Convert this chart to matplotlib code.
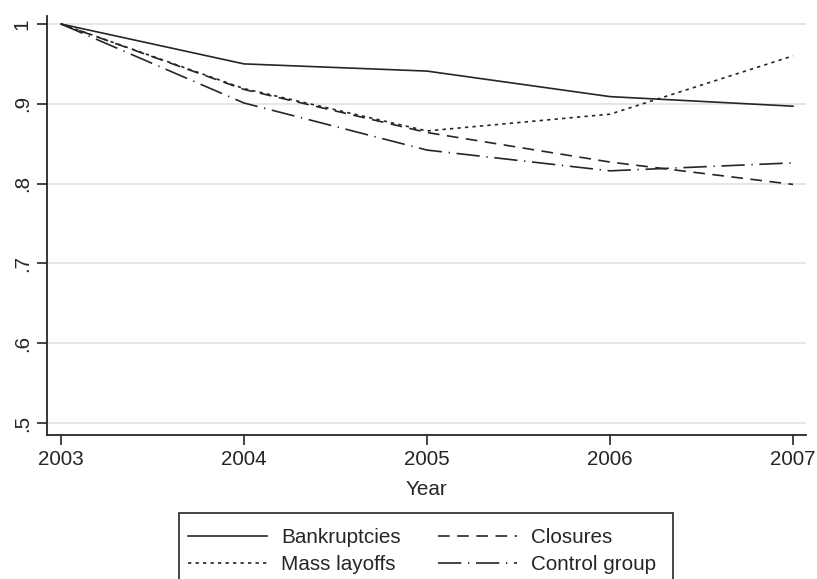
import numpy as np
import matplotlib
matplotlib.use("Agg")
import matplotlib.pyplot as plt
from matplotlib.patches import Rectangle

plt.rcParams['font.family'] = ['Liberation Sans', 'DejaVu Sans']

# data
years = [2003, 2004, 2005, 2006, 2007]
bankruptcies = [1.0, 0.950, 0.941, 0.909, 0.897]
closures = [1.0, 0.918, 0.864, 0.827, 0.799]
mass_layoffs = [1.0, 0.919, 0.866, 0.887, 0.960]
control_group = [1.0, 0.901, 0.842, 0.816, 0.826]
yticks = [0.5, 0.6, 0.7, 0.8, 0.9, 1.0]
ytick_labels = ['.5', '.6', '.7', '.8', '.9', '1']

fs = 14.9
dark = '#262626'
W, H = 817, 579

fig = plt.figure(figsize=(W/100, H/100), dpi=100)
ax = fig.add_axes([47/W, 1 - 435/H, (806 - 47)/W, (435 - 16)/H])

l1, = ax.plot(years, bankruptcies, color=dark, lw=1.2, ls='-', label='Bankruptcies')
l2, = ax.plot(years, closures, color=dark, lw=1.2, ls=(0, (7, 4.5)), label='Closures')
l3, = ax.plot(years, mass_layoffs, color=dark, lw=1.2, ls=(0, (2, 2.5)), label='Mass layoffs')
l4, = ax.plot(years, control_group, color=dark, lw=1.2, ls=(0, (14, 4, 0.8, 4)), label='Control group')

ax.set_xlim(2003 - 14/183, 2007 + 13/183)
ax.set_ylim(0.5 - 12/798, 1.0 + 8/798)
ax.set_xticks(years)
ax.set_xticklabels([str(y) for y in years], fontsize=fs, color=dark)
ax.set_yticks(yticks)
ax.set_yticklabels(ytick_labels, fontsize=fs, color=dark, rotation=90, va='center')
ax.tick_params(axis='both', direction='out', length=7, width=1.2, color=dark, pad=4)

ax.yaxis.grid(True, color='#e6e6e6', lw=1.4)
ax.set_axisbelow(True)
for s in ['top', 'right']:
    ax.spines[s].set_visible(False)
for s in ['left', 'bottom']:
    ax.spines[s].set_color(dark)
    ax.spines[s].set_linewidth(1.3)

ax.set_xlabel('Year', fontsize=fs, color=dark, labelpad=8)

# legend box runs off the bottom of the figure, so draw the frame by hand
fig.patches.append(Rectangle((179/W, -0.05), (673 - 179)/W, 0.05 + (H - 513)/H,
                             transform=fig.transFigure, fill=False,
                             edgecolor=dark, lw=1.2))

# legend fills column-wise, so order gives rows: Bankruptcies/Closures, Mass layoffs/Control group
leg = fig.legend([l1, l3, l2, l4], ['Bankruptcies', 'Mass layoffs', 'Closures', 'Control group'],
                 loc='upper left', bbox_to_anchor=(188/W, 1 - 528/H), ncol=2,
                 fontsize=fs, handlelength=3.8, handletextpad=0.7, columnspacing=1.8,
                 labelspacing=0.4, borderpad=0, borderaxespad=0, frameon=False)
for t in leg.get_texts():
    t.set_color(dark)

fig.savefig('out.png', dpi=100)
